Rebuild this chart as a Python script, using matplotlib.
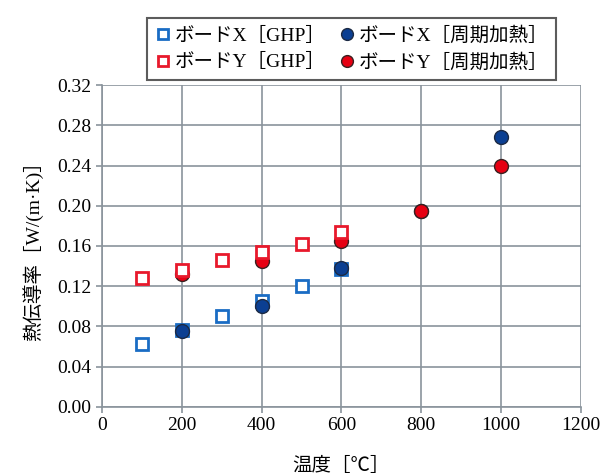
import matplotlib
matplotlib.use("Agg")
import matplotlib.pyplot as plt

plt.rcParams['font.family'] = ['Liberation Serif', 'Noto Sans CJK JP', 'DejaVu Sans']

# GHP measurements
ghp_t = [100, 200, 300, 400, 500, 600]
ghp_x = [0.063, 0.077, 0.090, 0.105, 0.120, 0.137]
ghp_y = [0.128, 0.136, 0.146, 0.154, 0.162, 0.174]

# periodic heating measurements
per_t = [200, 400, 600, 800, 1000]
per_x = [0.076, 0.100, 0.138, 0.195, 0.268]
per_y = [0.132, 0.145, 0.165, 0.195, 0.240]

labels = ['ボードX［GHP］', 'ボードY［GHP］', 'ボードX［周期加熱］', 'ボードY［周期加熱］']

fig = plt.figure(figsize=(6.03, 4.76), dpi=100)
ax = fig.add_axes([0.169, 0.145, 0.7945, 0.6764])

gc = '#8a949c'
h1, = ax.plot(ghp_t, ghp_x, 's', ms=8, mfc='white', mec='#1a6cc4', mew=2, ls='none', zorder=3)
h3, = ax.plot(per_t, per_x, 'o', ms=10, mfc='#0b3f92', mec='#1c2a44', mew=1, ls='none', zorder=4)
h4, = ax.plot(per_t, per_y, 'o', ms=10, mfc='#e60012', mec='#3a2020', mew=1, ls='none', zorder=5)
h2, = ax.plot(ghp_t, ghp_y, 's', ms=8, mfc='white', mec='#e8192c', mew=2, ls='none', zorder=6)

ax.set_xlim(0, 1200)
ax.set_ylim(0, 0.32)
ax.set_xticks(range(0, 1201, 200))
ax.set_yticks([i * 0.04 for i in range(9)])
ax.yaxis.set_major_formatter(matplotlib.ticker.FormatStrFormatter('%.2f'))
ax.grid(True, color=gc, lw=1.2)
ax.set_axisbelow(True)
for s in ax.spines.values():
    s.set_color(gc)
    s.set_linewidth(1.2)
ax.spines['top'].set_visible(False)
ax.spines['right'].set_visible(False)
ax.tick_params(colors=gc, labelcolor='black', labelsize=14, length=4, width=1.2)

ax.set_xlabel('温度［℃］', fontsize=14, labelpad=16)
ax.set_ylabel('熱伝導率［W/(m·K)］', fontsize=14, labelpad=10)

leg = fig.legend([h1, h2, h3, h4], labels, ncol=2, loc='upper left',
                 bbox_to_anchor=(0.228, 0.982), fontsize=14, frameon=True,
                 fancybox=False, edgecolor='#333333', handletextpad=0.2,
                 columnspacing=0.7, labelspacing=0.45, borderpad=0.4,
                 handlelength=0.8, markerscale=0.85)
leg.get_frame().set_linewidth(1.5)

fig.savefig('out.png', dpi=100)
